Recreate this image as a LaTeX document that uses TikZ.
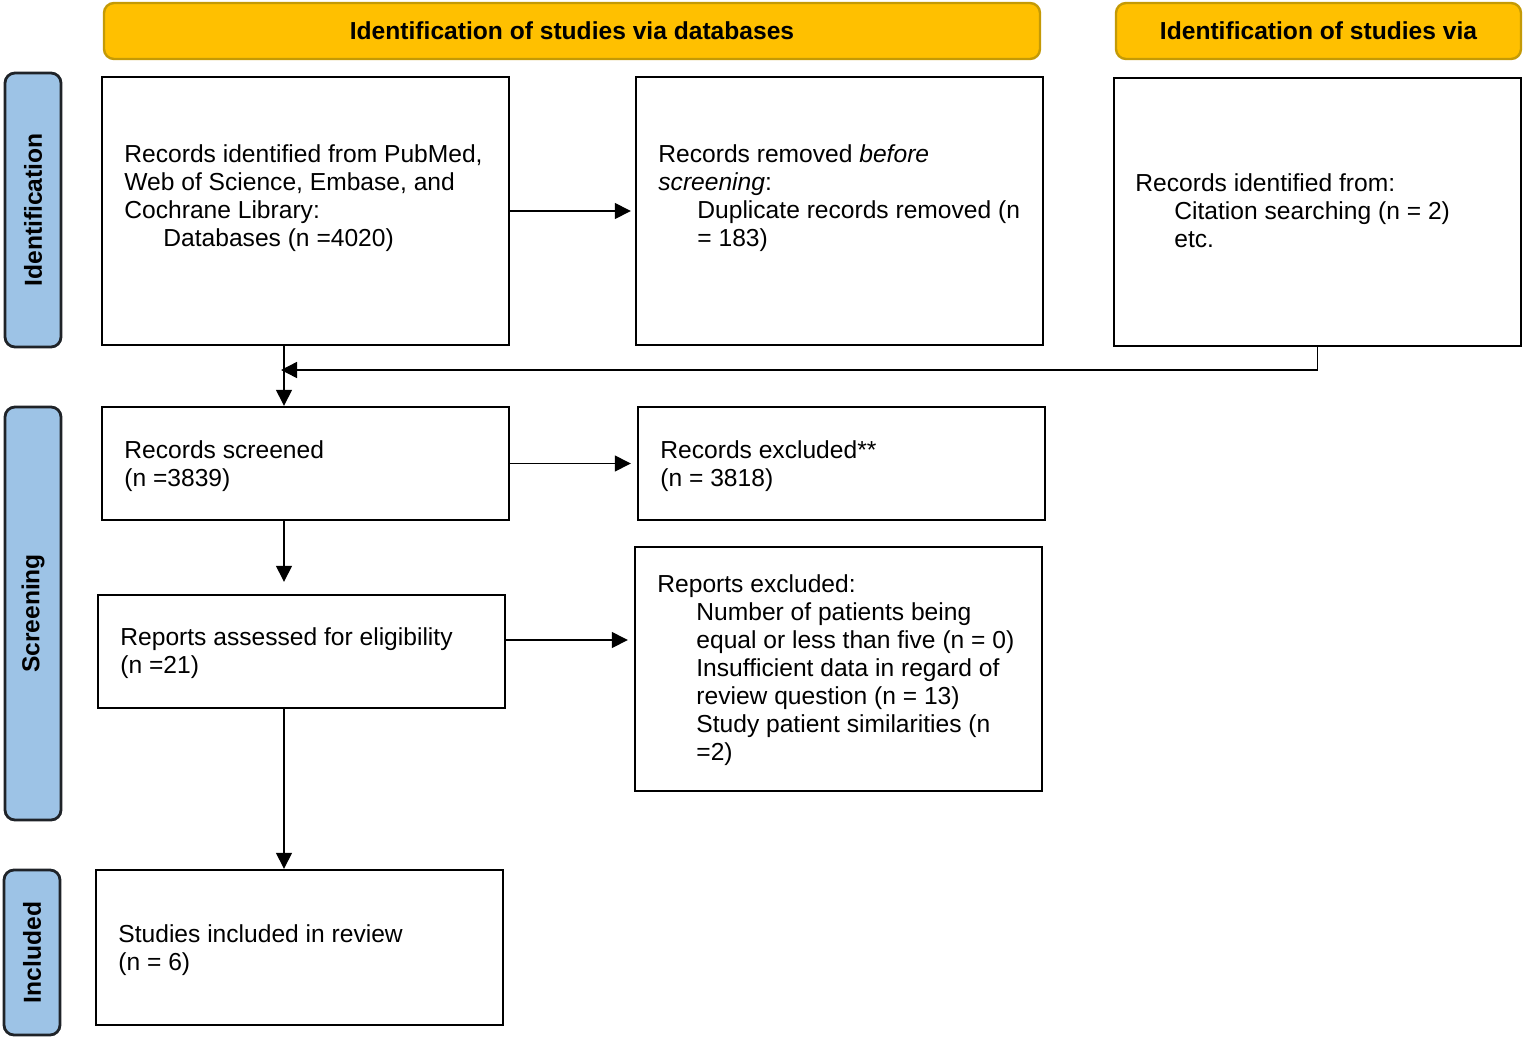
\documentclass[tikz,border=0pt]{standalone}
\usepackage{fontspec}
\setmainfont{Liberation Sans}
\usetikzlibrary{arrows.meta}
\definecolor{hdrfill}{HTML}{FFC000}
\definecolor{hdrdraw}{HTML}{C49A06}
\definecolor{sidefill}{HTML}{9DC3E6}
\definecolor{sidedraw}{HTML}{1F2328}
\newcommand{\bodyfont}{\fontsize{12.3}{14}\selectfont}
\newcommand{\ind}{\hspace*{19.5pt}}
\begin{document}
\begin{tikzpicture}[x=0.5pt,y=-0.5pt,
  box/.style={draw=black, line width=1.2pt, inner sep=0pt},
  hdr/.style={draw=hdrdraw, line width=1.2pt, fill=hdrfill, rounded corners=5pt, inner sep=0pt, font=\bfseries\bodyfont},
  side/.style={draw=sidedraw, line width=1.4pt, fill=sidefill, rounded corners=5pt, inner sep=0pt, rotate=90, font=\bfseries\bodyfont},
  txt/.style={anchor=north west, align=left, inner sep=0pt, font=\bodyfont},
  arr/.style={-{Triangle[length=8pt,width=8pt]}, line width=0.7pt}
]
\useasboundingbox (0,0) rectangle (1524,1038);

% headers
\node[hdr, minimum width=468pt, minimum height=28pt] (h1) at (572,31) {Identification of studies via databases};
\node[hdr, minimum width=202.5pt, minimum height=28pt] (h2) at (1318.5,31) {Identification of studies via};

% side labels
\node[side, minimum width=137pt, minimum height=28pt] (sI) at (33,210) {Identification};
\node[side, minimum width=206.5pt, minimum height=28pt] (sS) at (33,613.5) {Screening};
\node[side, minimum width=82.5pt, minimum height=28pt] (sN) at (32,952.5) {Included};

% boxes
\node[box, minimum width=203.5pt, minimum height=134pt] (A) at (305.5,211) {};
\node[box, minimum width=203.5pt, minimum height=134pt] (B) at (839.5,211) {};
\node[box, minimum width=203.5pt, minimum height=134pt] (C) at (1317.5,212) {};
\node[box, minimum width=203.5pt, minimum height=56.5pt] (D) at (305.5,463.5) {};
\node[box, minimum width=203.5pt, minimum height=56.5pt] (E) at (841.5,463.5) {};
\node[box, minimum width=203.5pt, minimum height=56.5pt] (F) at (301.5,651.5) {};
\node[box, minimum width=203.5pt, minimum height=122pt] (G) at (838.5,669) {};
\node[box, minimum width=203.5pt, minimum height=77.5pt] (H) at (299.5,947.5) {};

% texts
\node[txt] (tA) at (124,142.4) {\strut Records identified from PubMed,\\Web of Science, Embase, and\\Cochrane Library:\\\ind Databases (n =4020)};
\node[txt] (tB) at (658,142.4) {\strut Records removed \textit{before}\\\textit{screening}:\\\ind Duplicate records removed (n\\\ind = 183)};
\node[txt] (tC) at (1135,171.4) {\strut Records identified from:\\\ind Citation searching (n = 2)\\\ind etc.};
\node[txt] (tD) at (124,438.4) {\strut Records screened\\(n =3839)};
\node[txt] (tE) at (660,438.4) {\strut Records excluded**\\(n = 3818)};
\node[txt] (tF) at (120,625.4) {\strut Reports assessed for eligibility\\(n =21)};
\node[txt] (tG) at (657,572.4) {\strut Reports excluded:\\\ind Number of patients being\\\ind equal or less than five (n = 0)\\\ind Insufficient data in regard of\\\ind review question (n = 13)\\\ind Study patient similarities (n\\\ind =2)};
\node[txt] (tH) at (118,922.4) {\strut Studies included in review\\(n = 6)};

% connectors
\coordinate (colx) at (284,0);
\coordinate (mj) at (284,370);
\coordinate (fg) at (0,640);
\draw[arr] (A.south -| colx) -- (D.north -| colx);
\draw[arr, shorten >=-1.5pt] (C.south) |- (mj);
\draw[arr, shorten >=2pt] (A.east) -- (B.west);
\draw[arr, shorten >=3pt] (D.east) -- (E.west);
\draw[arr, shorten >=6pt] (D.south -| colx) -- (F.north -| colx);
\draw[arr, shorten >=3pt] (F.east |- fg) -- (G.west |- fg);
\draw[arr] (F.south -| colx) -- (H.north -| colx);
\end{tikzpicture}
\end{document}
